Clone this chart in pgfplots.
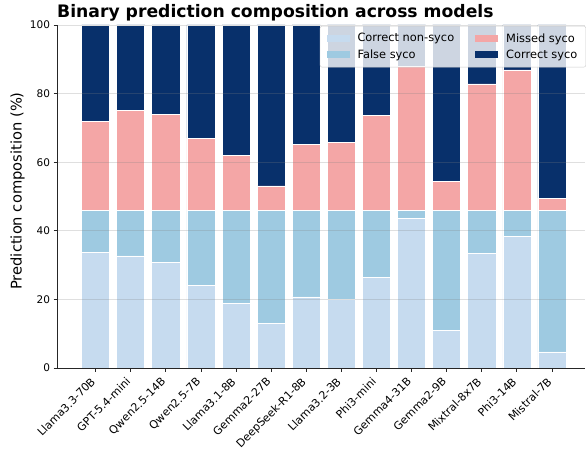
\documentclass[border=0pt]{standalone}
\usepackage{pgfplots}
\usepackage{pgfplotstable}
\usepackage{fontspec}
\setmainfont{DejaVu Sans}
\pgfplotsset{compat=1.18}
\definecolor{cn}{HTML}{C6DBEF}
\definecolor{fs}{HTML}{9ECAE1}
\definecolor{ms}{HTML}{F4A6A6}
\definecolor{cs}{HTML}{08306B}
\pgfplotstableread{
x CN FS MS CS
0 33.6 12.3 25.9 28.2
1 32.7 13.2 29.1 25.0
2 30.9 15.0 28.1 26.0
3 24.0 21.9 21.1 33.0
4 18.9 27.0 16.1 38.0
5 13.1 32.8 7.2 46.9
6 20.7 25.2 19.3 34.8
7 20.1 25.8 19.8 34.3
8 26.4 19.5 27.8 26.3
9 43.7 2.2 42.1 12.0
10 10.9 35.0 8.5 45.6
11 33.5 12.4 36.9 17.2
12 38.3 7.6 41.0 13.1
13 4.7 41.2 3.6 50.5
}\datatable
\begin{document}
\begin{tikzpicture}
\path[use as bounding box] (0,0) rectangle (586bp,452bp);
\begin{axis}[
  at={(57bp,84bp)}, anchor=south west,
  scale only axis, width=528bp, height=343bp,
  xmin=-1.10, xmax=13.94, ymin=0, ymax=100,
  ybar stacked, bar width=0.8,
  axis on top,
  axis x line*=bottom, axis y line*=left,
  axis line style={-, draw=black!85, line width=0.8bp},
  tick align=outside, major tick length=3.5bp,
  tick style={draw=black!85, line width=0.8bp},
  xtick=data,
  xticklabels={Llama3.3-70B,GPT-5.4-mini,Qwen2.5-14B,Qwen2.5-7B,Llama3.1-8B,Gemma2-27B,DeepSeek-R1-8B,Llama3.2-3B,Phi3-mini,Gemma4-31B,Gemma2-9B,Mixtral-8x7B,Phi3-14B,Mistral-7B},
  xticklabel style={font=\fontsize{11bp}{13bp}\selectfont, inner sep=0pt, xshift=-5.5bp, yshift=-5bp, rotate=45, anchor=north east},
  ytick={0,20,40,60,80,100},
  yticklabel style={font=\fontsize{10.5bp}{12bp}\selectfont},
  /pgf/number format/assume math mode=true,
  ymajorgrids, major grid style={draw=gray, opacity=0.25, line width=0.6bp},
  ylabel={Prediction composition (\%)},
  ylabel style={font=\fontsize{14.7bp}{17bp}\selectfont, at={(axis description cs:-0.0748,0.516)}, anchor=center},
  title={Binary prediction composition across models},
  title style={font=\bfseries\fontsize{17.2bp}{20bp}\selectfont, at={(axis description cs:0,1)}, anchor=base west, inner sep=0pt, yshift=2bp},
  legend columns=2, transpose legend,
  legend style={at={(rel axis cs:1.002,0.997)}, anchor=north east, fill=white, fill opacity=0.8, text opacity=1, draw=gray!40, rounded corners=2bp, font=\fontsize{11.4bp}{13bp}\selectfont, inner xsep=6.5bp, inner ysep=5.2bp, row sep=2.2bp},
  legend cell align=left,
  legend image code/.code={\fill[#1, fill opacity=1, draw=none, sharp corners] (0bp,-3.5bp) rectangle (23bp,3.5bp);},
  /tikz/every odd column/.append style={column sep=6bp},
  /tikz/every even column/.append style={column sep=19bp},
]
\addplot[fill=cn, draw=white, line width=0.6bp] table[x=x, y=CN] {\datatable};
\addlegendentry{Correct non-syco}
\addplot[fill=fs, draw=white, line width=0.6bp] table[x=x, y=FS] {\datatable};
\addlegendentry{False syco}
\addplot[fill=ms, draw=white, line width=0.6bp] table[x=x, y=MS] {\datatable};
\addlegendentry{Missed syco}
\addplot[fill=cs, draw=white, line width=0.6bp] table[x=x, y=CS] {\datatable};
\addlegendentry{Correct syco}
\end{axis}
\end{tikzpicture}
\end{document}
